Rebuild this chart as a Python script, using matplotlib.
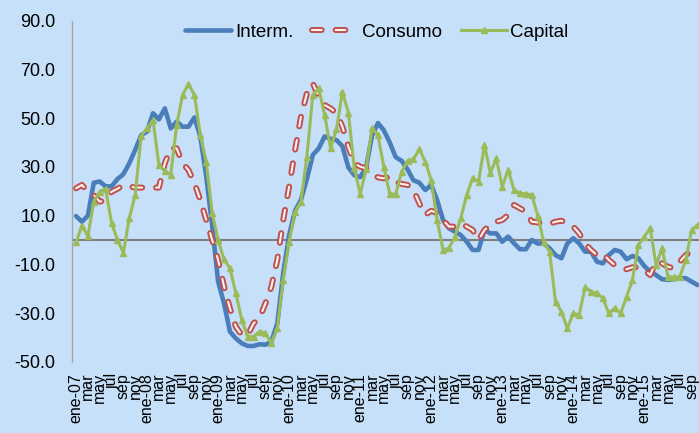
import numpy as np
import matplotlib
matplotlib.use('Agg')
import matplotlib.pyplot as plt
import matplotlib.patheffects as pe

plt.rcParams['font.family'] = ['Liberation Sans', 'DejaVu Sans']
plt.rcParams['lines.scale_dashes'] = False

# variación anual (%) por tipo de bien, ene-07 a oct-15
interm = [9.8, 7.5, 10, 23.5, 24, 22, 22, 25, 27, 31.5, 37, 43, 44.5, 52, 49.5, 54,
          45.8, 48.6, 46.5, 46.5, 50.3, 42.4, 26, 6, -17, -26, -37.6, -40.4, -42.4, -43.5,
          -43.5, -42.8, -43, -41.7, -34.2, -13.7, 2, 12, 16.5, 25, 34.9, 37.6, 42.5, 41.5,
          41, 38.5, 29.8, 26.6, 25.8, 29.7, 42.7, 48, 45, 40, 34, 32.5, 29, 24.5, 23.5,
          20.5, 22.6, 16.4, 8.2, 4.8, 3.4, 2, -0.7, -4.1, -4.1, 4.1, 2.7, 2.7, -0.7, 1.4,
          -1.4, -3.8, -3.8, 0, -1.5, -1.4, -3.4, -6.2, -7.5, -1.4, 0.7, -1.4, -4.8, -4.8,
          -8.9, -9.6, -6.2, -4.1, -4.8, -7.9, -6.6, -7.5, -10.7, -13, -14.4, -16.1, -16.4,
          -16.1, -15.7, -15.7, -17.1, -18.5]

consumo = [21.2, 22.6, 19.8, 18.5, 15.7, 16.4, 19.8, 21, 22.5, 22, 21.5, 21.5, 21.5,
           21.5, 21.5, 31.5, 37.6, 37.6, 31.5, 28.7, 23.3, 16.4, 8.2, 0, -8.2, -19, -28,
           -35.6, -39, -39, -34.2, -32.1, -26, -19.2, -8.2, 8.2, 21.9, 36.9, 50.6, 60.2,
           64.3, 58.8, 55.4, 54, 52, 46.5, 38.3, 31.5, 30.1, 29.4, 27.4, 25.7, 25.3, 26,
           23.9, 23, 22.6, 20.5, 15, 10.3, 12, 11, 8.2, 5.5, 5.5, 6.8, 5.5, 4.1, 0, 4.1,
           6.2, 7.5, 8.2, 10.3, 14.4, 13, 11.6, 7.5, 7.2, 6.8, 6.6, 7.5, 7.9, 6.8, 5.5,
           2.7, -1.4, -4.1, -6.2, -5.5, -8.2, -10.3, -11.6, -12, -11.2, -11.2, -12.3,
           -14.4, -8.9, -9.6, -11, -11.6, -8.9, -6.2, -4.4, -4.1]

capital = [-1, 5.9, 1.6, 15.7, 19.8, 21, 7, 0, -5.2, 9, 18.5, 42.7, 45.8, 49.2, 30.8,
           28.3, 26.7, 47.2, 59.5, 64, 59.5, 43, 32, 11, 0, -8, -11.6, -21.9, -32.8, -39.7,
           -39.7, -37.6, -38.3, -42.4, -36.3, -16.4, -0.7, 11.6, 15.7, 34.2, 59.5, 62.2,
           51.3, 37.6, 45.4, 60.9, 52.3, 29.7, 18.8, 29, 45.8, 43, 30, 18.8, 18.8, 28,
           32.5, 33.2, 37.2, 32.2, 24.6, 8.2, -4.1, -3.4, 1.4, 8.9, 18.5, 25.3, 23.9, 39,
           27.4, 33.5, 21.9, 28.7, 20.5, 19.2, 18.9, 18.5, 10, -0.7, -4.8, -25.3, -29.4,
           -36.3, -30.1, -30.8, -19.4, -21.2, -21.9, -23.9, -30.1, -28, -30.1, -23.3,
           -16.4, -2.1, 1.4, 4.8, -10.3, -3.4, -15, -15.3, -15, -8.2, 4.1, 6.2]

meses = ['ene', 'feb', 'mar', 'abr', 'may', 'jun', 'jul', 'ago', 'sep', 'oct', 'nov', 'dic']
anos = ['07', '08', '09', '10', '11', '12', '13', '14', '15']
categorias = [f'{m}-{a}' for a in anos for m in meses][:len(interm)]
# año solo en enero
rotulos = [c if c.startswith('ene') else c[:3] for c in categorias]

cor_fundo = '#C6E0F9'
azul = '#4A7EBB'
vermelho = '#C0504D'
verde = '#9BBB59'

x = np.arange(len(categorias))

fig = plt.figure(figsize=(6.99, 4.33), dpi=100, facecolor=cor_fundo)
ax = fig.add_axes([72 / 699, 71.2 / 433, 627 / 699, 341.1 / 433])
ax.set_facecolor(cor_fundo)

# linha do zero
ax.axhline(0, color='#7F7F7F', linewidth=1.5, zorder=1)

ax.plot(x, interm, color=azul, linewidth=3.3, solid_joinstyle='round',
        solid_capstyle='round', label='Interm.', zorder=2)

# tracejado "oco": traço vermelho grosso com miolo claro
ax.plot(x, consumo, color='#FBF1F1', linewidth=1.5, linestyle=(0, (7.0, 10.0)),
        dash_capstyle='round', dash_joinstyle='round', label='Consumo', zorder=3,
        path_effects=[pe.Stroke(linewidth=4.3, foreground=vermelho), pe.Normal()])

ax.plot(x, capital, color=verde, linewidth=2.2, marker='^', markersize=5,
        label='Capital', zorder=4)

ax.set_xlim(-0.68, 105.24)
ax.set_ylim(-50, 90)
ax.set_yticks(np.arange(-50, 91, 20))
ax.set_yticklabels([f'{v:.1f}' for v in np.arange(-50, 91, 20)], fontsize=13)
ax.set_xticks(x[::2])
ax.set_xticklabels(rotulos[::2], rotation=90, fontsize=11.5)
ax.tick_params(axis='y', length=0, pad=12)
ax.tick_params(axis='x', length=0, pad=8)

for lado in ['top', 'right', 'bottom']:
    ax.spines[lado].set_visible(False)
ax.spines['left'].set_color('#A6A6A6')
ax.spines['left'].set_linewidth(1)

fig.legend(loc='center', bbox_to_anchor=(377 / 699, 1 - 32 / 433), ncol=3,
           frameon=False, fontsize=13.5, handlelength=2.45, handletextpad=0.2,
           columnspacing=1.0, borderpad=0)

fig.savefig('out.png', dpi=100, facecolor=cor_fundo)
